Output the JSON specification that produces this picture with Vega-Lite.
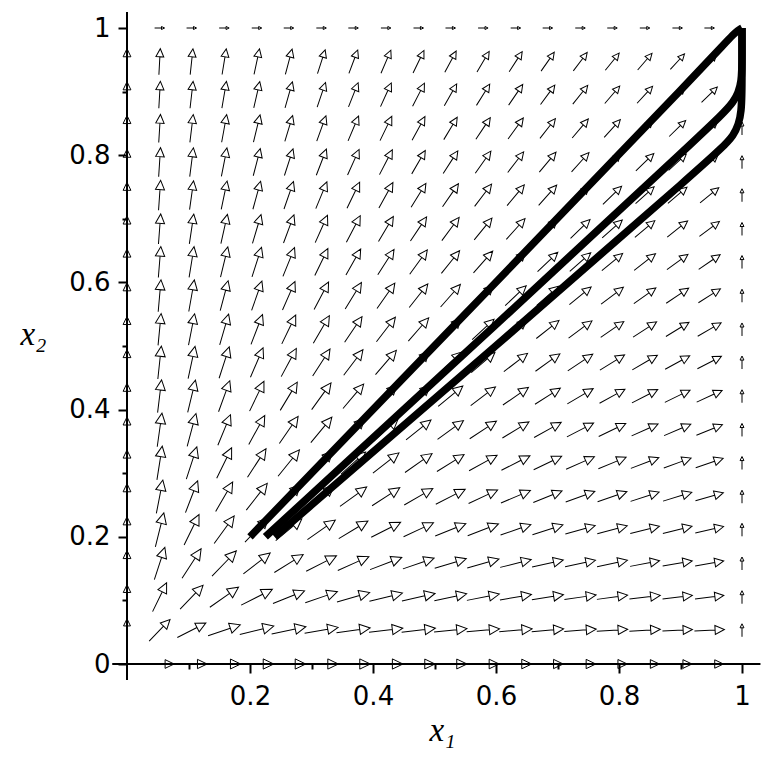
{
"$schema": "https://vega.github.io/schema/vega-lite/v6.json",
"autosize": "none",
"width": 615,
"height": 636,
"padding": {"left": 127, "top": 28, "right": 29, "bottom": 107},
"background": "white",
"config": {"view": {"stroke": null}},
"encoding": {
 "x": {"field": "x", "type": "quantitative", "title": "x₁",
  "scale": {"domain": [0, 1], "nice": false, "zero": false},
  "axis": {"values": [0.1,0.2,0.3,0.4,0.5,0.6,0.7,0.8,0.9,1], "format": ".1~f",
   "labelExpr": "round(datum.value*10) % 2 == 1 ? '' : datum.label",
   "domain": false, "grid": false, "tickColor": "black", "tickWidth": 2,
   "tickSize": {"condition": {"test": "round(datum.value*10) % 2 == 1", "value": 5}, "value": 9},
   "labelFont": "DejaVu Sans", "labelFontSize": 26, "labelColor": "black", "labelPadding": 10,
   "labelFlush": false, "labelOverlap": false,
   "titleFont": "Liberation Serif", "titleFontStyle": "italic", "titleFontWeight": "normal", "titleFontSize": 33, "titleColor": "black",
   "titleX": 315, "titleY": 76, "titleBaseline": "alphabetic", "titleAlign": "center"}},
 "y": {"field": "y", "type": "quantitative", "title": "x₂",
  "scale": {"domain": [0, 1], "nice": false, "zero": false},
  "axis": {"values": [0,0.1,0.2,0.3,0.4,0.5,0.6,0.7,0.8,0.9,1], "format": ".1~f",
   "labelExpr": "round(datum.value*10) % 2 == 1 ? '' : datum.label",
   "domain": false, "grid": false, "tickColor": "black", "tickWidth": 2,
   "tickSize": {"condition": {"test": "round(datum.value*10) % 2 == 1", "value": 5}, "value": 9},
   "labelFont": "DejaVu Sans", "labelFontSize": 26, "labelColor": "black", "labelPadding": 8,
   "labelFlush": false, "labelOverlap": false,
   "titleFont": "Liberation Serif", "titleFontStyle": "italic", "titleFontWeight": "normal", "titleFontSize": 33, "titleColor": "black",
   "titleAngle": 0, "titleX": -94, "titleY": 316, "titleBaseline": "alphabetic", "titleAlign": "center"}}
},
"layer": [
 {
  "data": {"values": [{"x": -0.024, "x2": 1.03, "y": 0, "y2": 0}, {"x": 0, "x2": 0, "y": -0.025, "y2": 1.025}]},
  "mark": {"type": "rule", "color": "black", "strokeWidth": 2},
  "encoding": {"x2": {"field": "x2"}, "y2": {"field": "y2"}}
 },
 {
  "data": {"values": [
{"x":0.053,"y":0,"a":90,"m":29},{"x":0.105,"y":0,"a":90,"m":31},{"x":0.158,"y":0,"a":90,"m":33},{"x":0.211,"y":0,"a":90,"m":34},{"x":0.263,"y":0,"a":90,"m":34},{"x":0.316,"y":0,"a":90,"m":34},{"x":0.368,"y":0,"a":90,"m":34},{"x":0.421,"y":0,"a":90,"m":34},{"x":0.474,"y":0,"a":90,"m":33},{"x":0.526,"y":0,"a":90,"m":33},{"x":0.579,"y":0,"a":90,"m":32},{"x":0.632,"y":0,"a":90,"m":32},{"x":0.684,"y":0,"a":90,"m":31},{"x":0.737,"y":0,"a":90,"m":31},{"x":0.789,"y":0,"a":90,"m":30},{"x":0.842,"y":0,"a":90,"m":29},{"x":0.895,"y":0,"a":90,"m":29},{"x":0.947,"y":0,"a":90,"m":28},
{"x":0,"y":0.053,"a":0,"m":23},{"x":0.053,"y":0.053,"a":44,"m":30},{"x":0.105,"y":0.053,"a":63,"m":32},{"x":0.158,"y":0.053,"a":71,"m":34},{"x":0.211,"y":0.053,"a":76,"m":35},{"x":0.263,"y":0.053,"a":78,"m":35},{"x":0.316,"y":0.053,"a":80,"m":34},{"x":0.368,"y":0.053,"a":82,"m":34},{"x":0.421,"y":0.053,"a":83,"m":34},{"x":0.474,"y":0.053,"a":83,"m":34},{"x":0.526,"y":0.053,"a":84,"m":33},{"x":0.579,"y":0.053,"a":85,"m":33},{"x":0.632,"y":0.053,"a":85,"m":33},{"x":0.684,"y":0.053,"a":85,"m":32},{"x":0.737,"y":0.053,"a":86,"m":32},{"x":0.789,"y":0.053,"a":86,"m":31},{"x":0.842,"y":0.053,"a":86,"m":31},{"x":0.895,"y":0.053,"a":87,"m":30},{"x":0.947,"y":0.053,"a":87,"m":30},{"x":1,"y":0.053,"a":0,"m":13},
{"x":0,"y":0.105,"a":0,"m":25},{"x":0.053,"y":0.105,"a":26,"m":32},{"x":0.105,"y":0.105,"a":44,"m":33},{"x":0.158,"y":0.105,"a":55,"m":35},{"x":0.211,"y":0.105,"a":63,"m":35},{"x":0.263,"y":0.105,"a":68,"m":34},{"x":0.316,"y":0.105,"a":71,"m":34},{"x":0.368,"y":0.105,"a":74,"m":34},{"x":0.421,"y":0.105,"a":76,"m":34},{"x":0.474,"y":0.105,"a":77,"m":34},{"x":0.526,"y":0.105,"a":78,"m":33},{"x":0.579,"y":0.105,"a":79,"m":33},{"x":0.632,"y":0.105,"a":80,"m":32},{"x":0.684,"y":0.105,"a":81,"m":32},{"x":0.737,"y":0.105,"a":82,"m":32},{"x":0.789,"y":0.105,"a":82,"m":31},{"x":0.842,"y":0.105,"a":83,"m":31},{"x":0.895,"y":0.105,"a":83,"m":30},{"x":0.947,"y":0.105,"a":83,"m":29},{"x":1,"y":0.105,"a":0,"m":13},
{"x":0,"y":0.158,"a":0,"m":26},{"x":0.053,"y":0.158,"a":18,"m":34},{"x":0.105,"y":0.158,"a":33,"m":35},{"x":0.158,"y":0.158,"a":44,"m":35},{"x":0.211,"y":0.158,"a":52,"m":34},{"x":0.263,"y":0.158,"a":58,"m":34},{"x":0.316,"y":0.158,"a":63,"m":34},{"x":0.368,"y":0.158,"a":66,"m":34},{"x":0.421,"y":0.158,"a":69,"m":34},{"x":0.474,"y":0.158,"a":71,"m":33},{"x":0.526,"y":0.158,"a":73,"m":33},{"x":0.579,"y":0.158,"a":74,"m":33},{"x":0.632,"y":0.158,"a":76,"m":32},{"x":0.684,"y":0.158,"a":77,"m":32},{"x":0.737,"y":0.158,"a":78,"m":31},{"x":0.789,"y":0.158,"a":78,"m":31},{"x":0.842,"y":0.158,"a":79,"m":30},{"x":0.895,"y":0.158,"a":80,"m":30},{"x":0.947,"y":0.158,"a":80,"m":29},{"x":1,"y":0.158,"a":0,"m":13},
{"x":0,"y":0.211,"a":0,"m":26},{"x":0.053,"y":0.211,"a":14,"m":35},{"x":0.105,"y":0.211,"a":26,"m":34},{"x":0.158,"y":0.211,"a":36,"m":34},{"x":0.211,"y":0.211,"a":44,"m":34},{"x":0.263,"y":0.211,"a":50,"m":34},{"x":0.316,"y":0.211,"a":55,"m":34},{"x":0.368,"y":0.211,"a":59,"m":34},{"x":0.421,"y":0.211,"a":63,"m":33},{"x":0.474,"y":0.211,"a":65,"m":33},{"x":0.526,"y":0.211,"a":68,"m":33},{"x":0.579,"y":0.211,"a":69,"m":33},{"x":0.632,"y":0.211,"a":71,"m":32},{"x":0.684,"y":0.211,"a":72,"m":32},{"x":0.737,"y":0.211,"a":74,"m":31},{"x":0.789,"y":0.211,"a":75,"m":31},{"x":0.842,"y":0.211,"a":76,"m":30},{"x":0.895,"y":0.211,"a":76,"m":30},{"x":0.947,"y":0.211,"a":77,"m":29},{"x":1,"y":0.211,"a":0,"m":13},
{"x":0,"y":0.263,"a":0,"m":26},{"x":0.053,"y":0.263,"a":11,"m":34},{"x":0.105,"y":0.263,"a":21,"m":34},{"x":0.158,"y":0.263,"a":30,"m":34},{"x":0.211,"y":0.263,"a":38,"m":34},{"x":0.263,"y":0.263,"a":44,"m":34},{"x":0.316,"y":0.263,"a":49,"m":34},{"x":0.368,"y":0.263,"a":54,"m":33},{"x":0.421,"y":0.263,"a":57,"m":33},{"x":0.474,"y":0.263,"a":60,"m":33},{"x":0.526,"y":0.263,"a":63,"m":33},{"x":0.579,"y":0.263,"a":65,"m":32},{"x":0.632,"y":0.263,"a":67,"m":32},{"x":0.684,"y":0.263,"a":68,"m":31},{"x":0.737,"y":0.263,"a":70,"m":31},{"x":0.789,"y":0.263,"a":71,"m":31},{"x":0.842,"y":0.263,"a":72,"m":30},{"x":0.895,"y":0.263,"a":73,"m":30},{"x":0.947,"y":0.263,"a":74,"m":29},{"x":1,"y":0.263,"a":0,"m":13},
{"x":0,"y":0.316,"a":0,"m":26},{"x":0.053,"y":0.316,"a":9,"m":34},{"x":0.105,"y":0.316,"a":18,"m":34},{"x":0.158,"y":0.316,"a":26,"m":34},{"x":0.211,"y":0.316,"a":33,"m":34},{"x":0.263,"y":0.316,"a":39,"m":34},{"x":0.316,"y":0.316,"a":44,"m":33},{"x":0.368,"y":0.316,"a":48,"m":33},{"x":0.421,"y":0.316,"a":52,"m":33},{"x":0.474,"y":0.316,"a":55,"m":33},{"x":0.526,"y":0.316,"a":58,"m":32},{"x":0.579,"y":0.316,"a":61,"m":32},{"x":0.632,"y":0.316,"a":63,"m":32},{"x":0.684,"y":0.316,"a":64.5,"m":31},{"x":0.737,"y":0.316,"a":66,"m":31},{"x":0.789,"y":0.316,"a":67.5,"m":30},{"x":0.842,"y":0.316,"a":69,"m":30},{"x":0.895,"y":0.316,"a":70,"m":29},{"x":0.947,"y":0.316,"a":71,"m":29},{"x":1,"y":0.316,"a":0,"m":13},
{"x":0,"y":0.368,"a":0,"m":26},{"x":0.053,"y":0.368,"a":8,"m":34},{"x":0.105,"y":0.368,"a":15,"m":34},{"x":0.158,"y":0.368,"a":22.5,"m":33},{"x":0.211,"y":0.368,"a":29,"m":33},{"x":0.263,"y":0.368,"a":34.6,"m":33},{"x":0.316,"y":0.368,"a":39.6,"m":33},{"x":0.368,"y":0.368,"a":44,"m":33},{"x":0.421,"y":0.368,"a":47.9,"m":33},{"x":0.474,"y":0.368,"a":51.2,"m":32},{"x":0.526,"y":0.368,"a":54.1,"m":32},{"x":0.579,"y":0.368,"a":56.7,"m":32},{"x":0.632,"y":0.368,"a":58.9,"m":31},{"x":0.684,"y":0.368,"a":60.9,"m":31},{"x":0.737,"y":0.368,"a":62.7,"m":30},{"x":0.789,"y":0.368,"a":64.3,"m":30},{"x":0.842,"y":0.368,"a":65.7,"m":29},{"x":0.895,"y":0.368,"a":67,"m":29},{"x":0.947,"y":0.368,"a":68.1,"m":28},{"x":1,"y":0.368,"a":0,"m":13},
{"x":0,"y":0.421,"a":0,"m":26},{"x":0.053,"y":0.421,"a":6.9,"m":33},{"x":0.105,"y":0.421,"a":13.6,"m":33},{"x":0.158,"y":0.421,"a":19.9,"m":33},{"x":0.211,"y":0.421,"a":25.8,"m":33},{"x":0.263,"y":0.421,"a":31.1,"m":33},{"x":0.316,"y":0.421,"a":35.9,"m":33},{"x":0.368,"y":0.421,"a":40.2,"m":32},{"x":0.421,"y":0.421,"a":44,"m":32},{"x":0.474,"y":0.421,"a":47.4,"m":32},{"x":0.526,"y":0.421,"a":50.4,"m":32},{"x":0.579,"y":0.421,"a":53.1,"m":31},{"x":0.632,"y":0.421,"a":55.5,"m":31},{"x":0.684,"y":0.421,"a":57.6,"m":30},{"x":0.737,"y":0.421,"a":59.5,"m":30},{"x":0.789,"y":0.421,"a":61.1,"m":29},{"x":0.842,"y":0.421,"a":62.7,"m":29},{"x":0.895,"y":0.421,"a":64.1,"m":28},{"x":0.947,"y":0.421,"a":65.3,"m":28},{"x":1,"y":0.421,"a":0,"m":13},
{"x":0,"y":0.474,"a":0,"m":26},{"x":0.053,"y":0.474,"a":6.1,"m":33},{"x":0.105,"y":0.474,"a":12.1,"m":33},{"x":0.158,"y":0.474,"a":17.9,"m":33},{"x":0.211,"y":0.474,"a":23.2,"m":32},{"x":0.263,"y":0.474,"a":28.2,"m":32},{"x":0.316,"y":0.474,"a":32.8,"m":32},{"x":0.368,"y":0.474,"a":37,"m":32},{"x":0.421,"y":0.474,"a":40.7,"m":32},{"x":0.474,"y":0.474,"a":44,"m":31},{"x":0.526,"y":0.474,"a":47.1,"m":31},{"x":0.579,"y":0.474,"a":49.8,"m":31},{"x":0.632,"y":0.474,"a":52.2,"m":30},{"x":0.684,"y":0.474,"a":54.4,"m":30},{"x":0.737,"y":0.474,"a":56.4,"m":30},{"x":0.789,"y":0.474,"a":58.2,"m":29},{"x":0.842,"y":0.474,"a":59.8,"m":29},{"x":0.895,"y":0.474,"a":61.3,"m":28},{"x":0.947,"y":0.474,"a":62.7,"m":27},{"x":1,"y":0.474,"a":0,"m":13},
{"x":0,"y":0.526,"a":0,"m":26},{"x":0.053,"y":0.526,"a":5.5,"m":32},{"x":0.105,"y":0.526,"a":11,"m":32},{"x":0.158,"y":0.526,"a":16.2,"m":32},{"x":0.211,"y":0.526,"a":21.1,"m":32},{"x":0.263,"y":0.526,"a":25.8,"m":32},{"x":0.316,"y":0.526,"a":30.1,"m":32},{"x":0.368,"y":0.526,"a":34.1,"m":31},{"x":0.421,"y":0.526,"a":37.7,"m":31},{"x":0.474,"y":0.526,"a":41,"m":31},{"x":0.526,"y":0.526,"a":44,"m":31},{"x":0.579,"y":0.526,"a":46.8,"m":30},{"x":0.632,"y":0.526,"a":49.3,"m":30},{"x":0.684,"y":0.526,"a":51.5,"m":29},{"x":0.737,"y":0.526,"a":53.6,"m":29},{"x":0.789,"y":0.526,"a":55.5,"m":28},{"x":0.842,"y":0.526,"a":57.1,"m":28},{"x":0.895,"y":0.526,"a":58.7,"m":27},{"x":0.947,"y":0.526,"a":60.1,"m":27},{"x":1,"y":0.526,"a":0,"m":13},
{"x":0,"y":0.579,"a":0,"m":26},{"x":0.053,"y":0.579,"a":5,"m":32},{"x":0.105,"y":0.579,"a":10,"m":32},{"x":0.158,"y":0.579,"a":14.8,"m":31},{"x":0.211,"y":0.579,"a":19.4,"m":31},{"x":0.263,"y":0.579,"a":23.7,"m":31},{"x":0.316,"y":0.579,"a":27.8,"m":31},{"x":0.368,"y":0.579,"a":31.6,"m":31},{"x":0.421,"y":0.579,"a":35.1,"m":31},{"x":0.474,"y":0.579,"a":38.3,"m":30},{"x":0.526,"y":0.579,"a":41.3,"m":30},{"x":0.579,"y":0.579,"a":44,"m":30},{"x":0.632,"y":0.579,"a":46.5,"m":29},{"x":0.684,"y":0.579,"a":48.8,"m":29},{"x":0.737,"y":0.579,"a":50.9,"m":28},{"x":0.789,"y":0.579,"a":52.8,"m":28},{"x":0.842,"y":0.579,"a":54.6,"m":27},{"x":0.895,"y":0.579,"a":56.2,"m":27},{"x":0.947,"y":0.579,"a":57.7,"m":26},{"x":1,"y":0.579,"a":0,"m":13},
{"x":0,"y":0.632,"a":0,"m":26},{"x":0.053,"y":0.632,"a":4.6,"m":31},{"x":0.105,"y":0.632,"a":9.2,"m":31},{"x":0.158,"y":0.632,"a":13.6,"m":31},{"x":0.211,"y":0.632,"a":17.9,"m":31},{"x":0.263,"y":0.632,"a":22,"m":31},{"x":0.316,"y":0.632,"a":25.8,"m":30},{"x":0.368,"y":0.632,"a":29.4,"m":30},{"x":0.421,"y":0.632,"a":32.8,"m":30},{"x":0.474,"y":0.632,"a":35.9,"m":30},{"x":0.526,"y":0.632,"a":38.9,"m":29},{"x":0.579,"y":0.632,"a":41.5,"m":29},{"x":0.632,"y":0.632,"a":44,"m":29},{"x":0.684,"y":0.632,"a":46.3,"m":28},{"x":0.737,"y":0.632,"a":48.5,"m":28},{"x":0.789,"y":0.632,"a":50.4,"m":27},{"x":0.842,"y":0.632,"a":52.2,"m":27},{"x":0.895,"y":0.632,"a":53.9,"m":26},{"x":0.947,"y":0.632,"a":55.5,"m":26},{"x":1,"y":0.632,"a":0,"m":13},
{"x":0,"y":0.684,"a":0,"m":26},{"x":0.053,"y":0.684,"a":4.3,"m":30},{"x":0.105,"y":0.684,"a":8.5,"m":30},{"x":0.158,"y":0.684,"a":12.6,"m":30},{"x":0.211,"y":0.684,"a":16.6,"m":30},{"x":0.263,"y":0.684,"a":20.4,"m":30},{"x":0.316,"y":0.684,"a":24.1,"m":30},{"x":0.368,"y":0.684,"a":27.5,"m":30},{"x":0.421,"y":0.684,"a":30.8,"m":29},{"x":0.474,"y":0.684,"a":33.8,"m":29},{"x":0.526,"y":0.684,"a":36.6,"m":29},{"x":0.579,"y":0.684,"a":39.3,"m":28},{"x":0.632,"y":0.684,"a":41.8,"m":28},{"x":0.684,"y":0.684,"a":44,"m":28},{"x":0.737,"y":0.684,"a":46.2,"m":27},{"x":0.789,"y":0.684,"a":48.1,"m":27},{"x":0.842,"y":0.684,"a":50,"m":26},{"x":0.895,"y":0.684,"a":51.7,"m":26},{"x":0.947,"y":0.684,"a":53.2,"m":25},{"x":1,"y":0.684,"a":0,"m":13},
{"x":0,"y":0.737,"a":0,"m":26},{"x":0.053,"y":0.737,"a":4,"m":30},{"x":0.105,"y":0.737,"a":7.9,"m":29},{"x":0.158,"y":0.737,"a":11.7,"m":29},{"x":0.211,"y":0.737,"a":15.4,"m":29},{"x":0.263,"y":0.737,"a":19.1,"m":29},{"x":0.316,"y":0.737,"a":22.5,"m":29},{"x":0.368,"y":0.737,"a":25.8,"m":29},{"x":0.421,"y":0.737,"a":28.9,"m":29},{"x":0.474,"y":0.737,"a":31.9,"m":28},{"x":0.526,"y":0.737,"a":34.6,"m":28},{"x":0.579,"y":0.737,"a":37.2,"m":28},{"x":0.632,"y":0.737,"a":39.6,"m":27},{"x":0.684,"y":0.737,"a":41.9,"m":27},{"x":0.737,"y":0.737,"a":44,"m":26},{"x":0.789,"y":0.737,"a":46,"m":26},{"x":0.842,"y":0.737,"a":47.9,"m":25},{"x":0.895,"y":0.737,"a":49.6,"m":25},{"x":0.947,"y":0.737,"a":51.2,"m":24},{"x":1,"y":0.737,"a":0,"m":13},
{"x":0,"y":0.789,"a":0,"m":26},{"x":0.053,"y":0.789,"a":3.7,"m":29},{"x":0.105,"y":0.789,"a":7.3,"m":29},{"x":0.158,"y":0.789,"a":11,"m":29},{"x":0.211,"y":0.789,"a":14.5,"m":28},{"x":0.263,"y":0.789,"a":17.9,"m":28},{"x":0.316,"y":0.789,"a":21.1,"m":28},{"x":0.368,"y":0.789,"a":24.3,"m":28},{"x":0.421,"y":0.789,"a":27.3,"m":28},{"x":0.474,"y":0.789,"a":30.1,"m":27},{"x":0.526,"y":0.789,"a":32.8,"m":27},{"x":0.579,"y":0.789,"a":35.3,"m":27},{"x":0.632,"y":0.789,"a":37.7,"m":26},{"x":0.684,"y":0.789,"a":39.9,"m":26},{"x":0.737,"y":0.789,"a":42.1,"m":26},{"x":0.789,"y":0.789,"a":44,"m":25},{"x":0.842,"y":0.789,"a":45.9,"m":25},{"x":0.895,"y":0.789,"a":47.6,"m":24},{"x":0.947,"y":0.789,"a":49.3,"m":23},{"x":1,"y":0.789,"a":0,"m":13},
{"x":0,"y":0.842,"a":0,"m":26},{"x":0.053,"y":0.842,"a":3.5,"m":28},{"x":0.105,"y":0.842,"a":6.9,"m":28},{"x":0.158,"y":0.842,"a":10.3,"m":28},{"x":0.211,"y":0.842,"a":13.6,"m":28},{"x":0.263,"y":0.842,"a":16.8,"m":27},{"x":0.316,"y":0.842,"a":19.9,"m":27},{"x":0.368,"y":0.842,"a":22.9,"m":27},{"x":0.421,"y":0.842,"a":25.8,"m":27},{"x":0.474,"y":0.842,"a":28.5,"m":27},{"x":0.526,"y":0.842,"a":31.1,"m":26},{"x":0.579,"y":0.842,"a":33.6,"m":26},{"x":0.632,"y":0.842,"a":35.9,"m":26},{"x":0.684,"y":0.842,"a":38.1,"m":25},{"x":0.737,"y":0.842,"a":40.2,"m":25},{"x":0.789,"y":0.842,"a":42.2,"m":24},{"x":0.842,"y":0.842,"a":44,"m":24},{"x":0.895,"y":0.842,"a":45.8,"m":23},{"x":0.947,"y":0.842,"a":47.4,"m":23},{"x":1,"y":0.842,"a":0,"m":13},
{"x":0,"y":0.895,"a":0,"m":26},{"x":0.053,"y":0.895,"a":3.3,"m":27},{"x":0.105,"y":0.895,"a":6.5,"m":27},{"x":0.158,"y":0.895,"a":9.7,"m":27},{"x":0.211,"y":0.895,"a":12.8,"m":27},{"x":0.263,"y":0.895,"a":15.9,"m":27},{"x":0.316,"y":0.895,"a":18.8,"m":26},{"x":0.368,"y":0.895,"a":21.7,"m":26},{"x":0.421,"y":0.895,"a":24.5,"m":26},{"x":0.474,"y":0.895,"a":27.1,"m":26},{"x":0.526,"y":0.895,"a":29.6,"m":25},{"x":0.579,"y":0.895,"a":32,"m":25},{"x":0.632,"y":0.895,"a":34.3,"m":25},{"x":0.684,"y":0.895,"a":36.5,"m":24},{"x":0.737,"y":0.895,"a":38.5,"m":24},{"x":0.789,"y":0.895,"a":40.5,"m":23},{"x":0.842,"y":0.895,"a":42.3,"m":23},{"x":0.895,"y":0.895,"a":44,"m":22},{"x":0.947,"y":0.895,"a":45.7,"m":22},{"x":1,"y":0.895,"a":0,"m":13},
{"x":0,"y":0.947,"a":0,"m":26},{"x":0.053,"y":0.947,"a":3.1,"m":26},{"x":0.105,"y":0.947,"a":6.1,"m":26},{"x":0.158,"y":0.947,"a":9.2,"m":26},{"x":0.211,"y":0.947,"a":12.1,"m":26},{"x":0.263,"y":0.947,"a":15,"m":26},{"x":0.316,"y":0.947,"a":17.9,"m":25},{"x":0.368,"y":0.947,"a":20.6,"m":25},{"x":0.421,"y":0.947,"a":23.2,"m":25},{"x":0.474,"y":0.947,"a":25.8,"m":25},{"x":0.526,"y":0.947,"a":28.2,"m":24},{"x":0.579,"y":0.947,"a":30.5,"m":24},{"x":0.632,"y":0.947,"a":32.8,"m":24},{"x":0.684,"y":0.947,"a":34.9,"m":23},{"x":0.737,"y":0.947,"a":37,"m":23},{"x":0.789,"y":0.947,"a":38.9,"m":22},{"x":0.842,"y":0.947,"a":40.7,"m":22},{"x":0.895,"y":0.947,"a":42.4,"m":21},{"x":0.947,"y":0.947,"a":44,"m":21},{"x":1,"y":0.947,"a":0,"m":13},
{"x":0.053,"y":1,"a":90,"m":10},{"x":0.105,"y":1,"a":90,"m":10},{"x":0.158,"y":1,"a":90,"m":10},{"x":0.211,"y":1,"a":90,"m":10},{"x":0.263,"y":1,"a":90,"m":10},{"x":0.316,"y":1,"a":90,"m":10},{"x":0.368,"y":1,"a":90,"m":10},{"x":0.421,"y":1,"a":90,"m":10},{"x":0.474,"y":1,"a":90,"m":10},{"x":0.526,"y":1,"a":90,"m":10},{"x":0.579,"y":1,"a":90,"m":10},{"x":0.632,"y":1,"a":90,"m":10},{"x":0.684,"y":1,"a":90,"m":10},{"x":0.737,"y":1,"a":90,"m":10},{"x":0.789,"y":1,"a":90,"m":10},{"x":0.842,"y":1,"a":90,"m":10},{"x":0.895,"y":1,"a":90,"m":10},{"x":0.947,"y":1,"a":90,"m":10}
  ]},
  "mark": {"type": "point", "shape": "M0,1L0,-0.38M-0.3,-0.38L0,-1L0.3,-0.38Z", "filled": false, "color": "black", "strokeWidth": 1, "opacity": 1},
  "encoding": {
   "angle": {"field": "a", "type": "quantitative", "scale": {"domain": [0, 360], "range": [0, 360]}, "legend": null},
   "size": {"field": "m", "type": "quantitative", "scale": {"type": "pow", "exponent": 2, "domain": [0, 40], "range": [0, 1600]}, "legend": null}
  }
 },
 {
  "data": {"values": [
{"t":1,"k":1,"x":0.2,"y":0.2},{"t":1,"k":2,"x":0.6,"y":0.6},{"t":1,"k":3,"x":0.95,"y":0.952},{"t":1,"k":4,"x":0.99,"y":0.995},{"t":1,"k":5,"x":1,"y":1},{"t":1,"k":6,"x":1,"y":1},
{"t":2,"k":1,"x":0.225,"y":0.2},{"t":2,"k":2,"x":0.6,"y":0.533},{"t":2,"k":3,"x":0.95,"y":0.847},{"t":2,"k":4,"x":0.99,"y":0.885},{"t":2,"k":5,"x":1,"y":0.915},{"t":2,"k":6,"x":1,"y":0.96},{"t":2,"k":7,"x":1,"y":1},{"t":2,"k":8,"x":1,"y":1},
{"t":3,"k":1,"x":0.24,"y":0.2},{"t":3,"k":2,"x":0.6,"y":0.5},{"t":3,"k":3,"x":0.95,"y":0.795},{"t":3,"k":4,"x":0.99,"y":0.832},{"t":3,"k":5,"x":1,"y":0.865},{"t":3,"k":6,"x":1,"y":0.93},{"t":3,"k":7,"x":1,"y":1},{"t":3,"k":8,"x":1,"y":1}
  ]},
  "mark": {"type": "line", "color": "black", "strokeWidth": 7.5, "strokeJoin": "round", "interpolate": "basis"},
  "encoding": {"detail": {"field": "t"}, "order": {"field": "k", "type": "quantitative"}}
 }
]
}
